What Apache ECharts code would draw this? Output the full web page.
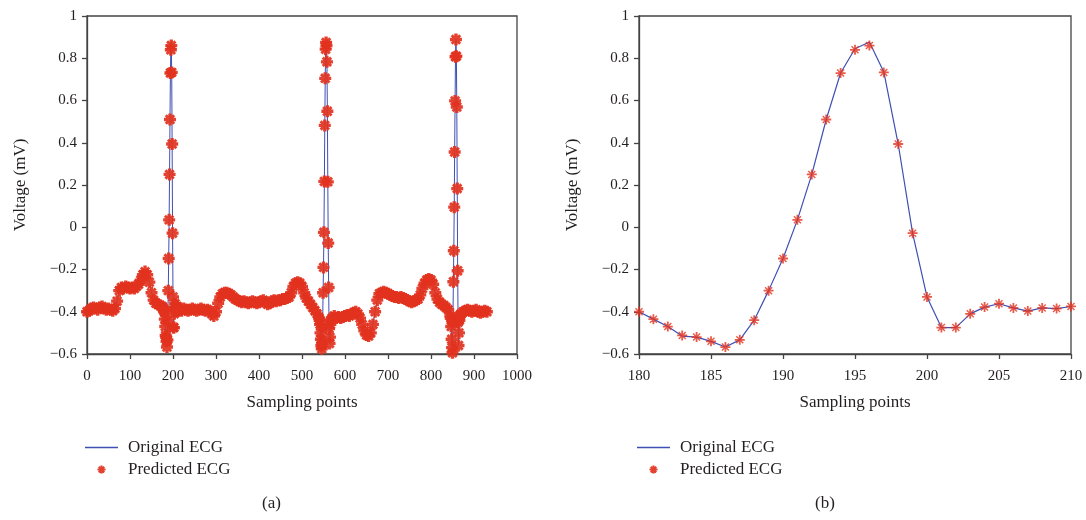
<!DOCTYPE html>
<html>
<head>
<meta charset="utf-8">
<script src="https://cdn.jsdelivr.net/npm/echarts@6/dist/echarts.min.js"></script>
<style>
html,body{margin:0;padding:0;background:#fff;}
#chart{width:1086px;height:520px;}
</style>
</head>
<body>
<div id="chart"></div>
<script>
// ---- data (sample index, voltage in mV) ----
const predictedEcg = [
[0,-0.40],[5,-0.395],[10,-0.385],[15,-0.38],[20,-0.385],[25,-0.39],[30,-0.38],[35,-0.375],[40,-0.385],[45,-0.39],
[50,-0.385],[55,-0.39],[60,-0.395],[65,-0.385],[70,-0.35],[75,-0.30],[80,-0.285],[85,-0.29],[90,-0.28],[95,-0.285],
[100,-0.29],[105,-0.285],[110,-0.29],[115,-0.28],[120,-0.27],[125,-0.25],[130,-0.225],[135,-0.21],[140,-0.225],[145,-0.26],
[150,-0.31],[155,-0.345],[160,-0.36],[165,-0.365],[170,-0.37],[175,-0.375],[176,-0.38],[177,-0.385],[178,-0.39],[179,-0.395],
[180,-0.40],[181,-0.435],[182,-0.47],[183,-0.512],[184,-0.52],[185,-0.54],[186,-0.567],[187,-0.533],[188,-0.44],[189,-0.30],
[190,-0.148],[191,0.035],[192,0.25],[193,0.51],[194,0.73],[195,0.84],[196,0.86],[197,0.733],[198,0.394],[199,-0.028],
[200,-0.33],[201,-0.475],[202,-0.475],[203,-0.41],[204,-0.378],[205,-0.362],[206,-0.382],[207,-0.397],[208,-0.382],[209,-0.385],
[210,-0.375],[211,-0.385],[212,-0.39],[213,-0.395],[214,-0.39],
[215,-0.39],[220,-0.395],[225,-0.385],[230,-0.39],[235,-0.395],[240,-0.39],[245,-0.385],[250,-0.39],[255,-0.395],[260,-0.39],
[265,-0.385],[270,-0.39],[275,-0.395],[280,-0.39],[285,-0.395],[290,-0.41],[295,-0.42],[300,-0.40],[305,-0.36],[310,-0.33],
[315,-0.315],[320,-0.31],[325,-0.31],[330,-0.315],[335,-0.32],[340,-0.33],[345,-0.34],[350,-0.345],[355,-0.35],[360,-0.355],
[365,-0.35],[370,-0.355],[375,-0.36],[380,-0.355],[385,-0.35],[390,-0.355],[395,-0.36],[400,-0.355],[405,-0.35],[410,-0.345],
[415,-0.355],[420,-0.365],[425,-0.36],[430,-0.35],[435,-0.345],[440,-0.35],[445,-0.345],[450,-0.345],[455,-0.34],[460,-0.34],
[465,-0.335],[470,-0.33],[475,-0.31],[480,-0.28],[485,-0.265],[490,-0.26],[495,-0.265],[500,-0.28],[505,-0.31],[510,-0.335],
[515,-0.35],[520,-0.365],[525,-0.38],[530,-0.395],[535,-0.41],[540,-0.43],
[541,-0.44],[542,-0.46],[543,-0.50],[544,-0.53],[545,-0.56],[546,-0.575],[547,-0.55],[548,-0.47],[549,-0.31],[550,-0.19],
[551,-0.024],[552,0.217],[553,0.482],[554,0.705],[555,0.843],[556,0.875],[557,0.86],[558,0.783],[559,0.549],[560,0.215],
[561,-0.075],[562,-0.285],[563,-0.48],[564,-0.55],[565,-0.52],[566,-0.46],[567,-0.44],
[570,-0.43],[575,-0.42],[580,-0.43],[585,-0.425],[590,-0.43],[595,-0.425],[600,-0.42],[605,-0.415],[610,-0.42],[615,-0.41],
[620,-0.405],[625,-0.40],[630,-0.41],[635,-0.43],[640,-0.46],[645,-0.49],[650,-0.51],[655,-0.515],[660,-0.50],[665,-0.46],
[670,-0.40],[675,-0.345],[680,-0.315],[685,-0.31],[690,-0.305],[695,-0.31],[700,-0.315],[705,-0.32],[710,-0.325],[715,-0.33],
[720,-0.33],[725,-0.335],[730,-0.33],[735,-0.335],[740,-0.34],[745,-0.345],[750,-0.35],[755,-0.355],[760,-0.35],[765,-0.345],
[770,-0.34],[775,-0.32],[780,-0.29],[785,-0.265],[790,-0.25],[795,-0.245],[800,-0.25],[805,-0.27],[810,-0.31],[815,-0.34],
[820,-0.355],[825,-0.365],[830,-0.37],[835,-0.38],[840,-0.39],[845,-0.42],
[846,-0.43],[847,-0.47],[848,-0.53],[849,-0.57],[850,-0.594],[851,-0.45],[852,-0.258],[853,-0.111],[854,0.095],[855,0.356],
[856,0.598],[857,0.807],[858,0.889],[859,0.81],[860,0.569],[861,0.183],[862,-0.206],[863,-0.45],[864,-0.56],[865,-0.50],
[866,-0.44],[867,-0.42],[868,-0.415],
[870,-0.41],[875,-0.40],[880,-0.395],[885,-0.39],[890,-0.395],[895,-0.40],[900,-0.395],[905,-0.39],[910,-0.40],[915,-0.405],
[920,-0.40],[925,-0.395],[930,-0.40]
];
// points where the original ECG line differs from the predicted markers
const originalDiffs = [[183,-0.515],[195,0.845],[196,0.877],[197,0.735],[556,0.878],[858,0.892]];

const xTicksA = {min:0, max:1000, step:100};
const xTicksB = {min:180, max:210, step:5};
const yTicks = {min:-0.6, max:1, step:0.2};

// ---- build ----
const diffMap = new Map(originalDiffs);
const originalEcg = predictedEcg.map(p => [p[0], diffMap.has(p[0]) ? diffMap.get(p[0]) : p[1]]);
const inB = p => p[0] >= xTicksB.min && p[0] <= xTicksB.max;

const FONT = "'Liberation Serif','DejaVu Serif',serif";
const TXT = '#231f20';
const AX = '#444';
const BLUE = '#3f4fb3';
const RED = '#e2321e';
const STAR = 'path://M-1.4,-5L1.4,-5L1.4,-1.4L5,-1.4L5,1.4L1.4,1.4L1.4,5L-1.4,5L-1.4,1.4L-5,1.4L-5,-1.4L-1.4,-1.4Z' +
  'M-4.35,-2.65L-2.65,-4.35L4.35,2.65L2.65,4.35Z' +
  'M2.65,-4.35L4.35,-2.65L-2.65,4.35L-4.35,2.65Z';
const STAR_THIN = 'path://M-0.9,-5L0.9,-5L0.9,-0.9L5,-0.9L5,0.9L0.9,0.9L0.9,5L-0.9,5L-0.9,0.9L-5,0.9L-5,-0.9L-0.9,-0.9Z' +
  'M-4.0,-3.0L-3.0,-4.0L4.0,3.0L3.0,4.0Z' +
  'M3.0,-4.0L4.0,-3.0L-3.0,4.0L-4.0,3.0Z' +
  'M-1.8,-1.8L1.8,-1.8L1.8,1.8L-1.8,1.8Z';
const LINE_ICON = 'path://M0,0L33,0L33,1.3L0,1.3Z';

function yFmt(v){
  const r = Math.round(v*10)/10;
  if (r === 0) return '0';
  if (r === 1) return '1';
  return r.toFixed(1).replace('-', '\u2212');
}
function xFmt(v){ return String(Math.round(v)); }
function xAxisOf(g, t){
  return {type:'value', gridIndex:g, min:t.min, max:t.max, interval:t.step,
    name:'Sampling points', nameLocation:'middle', nameGap:40,
    nameTextStyle:{fontFamily:FONT, fontSize:17, color:TXT},
    axisLine:{onZero:false, lineStyle:{color:AX, width:1.3}},
    axisTick:{inside:false, length:5, lineStyle:{color:AX, width:1.3}},
    axisLabel:{margin:15, fontFamily:FONT, fontSize:15, color:TXT, formatter:xFmt},
    splitLine:{show:false}};
}
function yAxisOf(g){
  return {type:'value', gridIndex:g, min:yTicks.min, max:yTicks.max, interval:yTicks.step,
    name:'Voltage (mV)', nameLocation:'middle', nameGap:58,
    nameTextStyle:{fontFamily:FONT, fontSize:17, color:TXT},
    axisLine:{onZero:false, lineStyle:{color:AX, width:1.3}},
    axisTick:{inside:false, length:5, lineStyle:{color:AX, width:1.3}},
    axisLabel:{margin:10, fontFamily:FONT, fontSize:15, color:TXT, formatter:yFmt},
    splitLine:{show:false}};
}
function legendOf(left){
  return {left:left, top:439, orient:'vertical', padding:0, itemGap:5, itemWidth:33, itemHeight:8,
    selectedMode:false,
    data:[{name:'Original ECG', icon:LINE_ICON, itemStyle:{color:BLUE}}, {name:'Predicted ECG'}],
    textStyle:{fontFamily:FONT, fontSize:17, color:TXT, padding:[0,0,0,5]}};
}
const gridStyle = {show:true, borderColor:AX, borderWidth:1.3, backgroundColor:'transparent'};

const chart = echarts.init(document.getElementById('chart'), null, {renderer:'canvas'});
chart.setOption({
  animation:false,
  grid:[Object.assign({left:87, top:16, width:430, height:338}, gridStyle),
        Object.assign({left:639, top:16, width:432, height:338}, gridStyle)],
  xAxis:[xAxisOf(0, xTicksA), xAxisOf(1, xTicksB)],
  yAxis:[yAxisOf(0), yAxisOf(1)],
  legend:[legendOf(85), legendOf(637)],
  series:[
    {name:'Original ECG', type:'line', xAxisIndex:0, yAxisIndex:0, data:originalEcg,
      showSymbol:false, symbol:'none', lineStyle:{color:BLUE, width:1}, itemStyle:{color:BLUE}, z:2},
    {name:'Predicted ECG', type:'scatter', xAxisIndex:0, yAxisIndex:0, data:predictedEcg,
      symbol:STAR, symbolSize:12, symbolKeepAspect:true, itemStyle:{color:RED, opacity:0.92}, z:3},
    {name:'Original ECG', type:'line', xAxisIndex:1, yAxisIndex:1, data:originalEcg.filter(inB),
      showSymbol:false, symbol:'none', lineStyle:{color:BLUE, width:1.2}, itemStyle:{color:BLUE}, z:2},
    {name:'Predicted ECG', type:'scatter', xAxisIndex:1, yAxisIndex:1, data:predictedEcg.filter(inB),
      symbol:STAR_THIN, symbolSize:10, symbolKeepAspect:true, itemStyle:{color:RED}, z:3}
  ],
  graphic:[
    {type:'text', left:262, top:495, style:{text:'(a)', font:"17px 'Liberation Serif', serif", fill:TXT}},
    {type:'text', left:815, top:495, style:{text:'(b)', font:"17px 'Liberation Serif', serif", fill:TXT}}
  ]
});
</script>
</body>
</html>
